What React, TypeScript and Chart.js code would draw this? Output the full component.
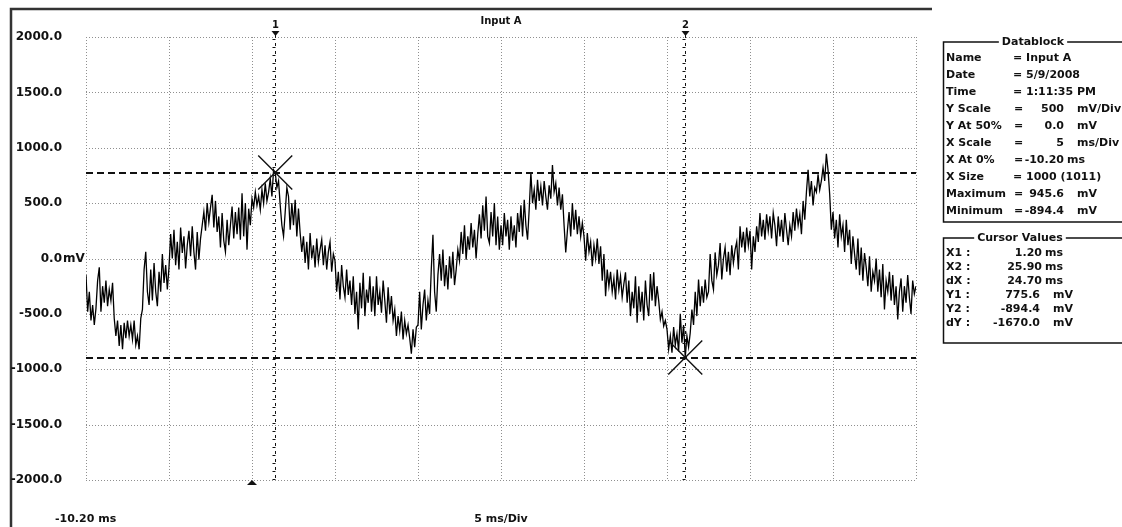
import React, { useEffect, useRef } from 'react';
import { Chart, registerables } from 'chart.js';

Chart.register(...registerables);

// ---- data ----
const X_START_MS = -10.2;
const X_STEP_MS = 0.1;
const X_MIN_MS = -10.2;
const X_MAX_MS = 39.8;
const Y_MIN_MV = -2000;
const Y_MAX_MV = 2000;

// one row per 5 ms division, sampled every 0.1 ms
const VOLTAGE_MV = [
  -150, -480, -300, -560, -420, -600, -450, -200, -80, -480, -250, -400, -200, -430, -280, -380, -220, -540, -700, -560, -790, -600, -820, -580, -720, -560, -700, -600, -730, -560, -780, -700, -820, -540, -460, -100, 60, -300, -420, -100, -380, -40, -300, -430, -120, -300, 40, -220, -60, -280,
  -80, 220, 0, 260, -60, 150, -100, 280, 50, 200, -90, 120, 250, 20, 290, 60, -100, 240, -10, 180, 300, 420, 250, 500, 330, 460, 575, 280, 520, 240, 380, 100, 410, 160, 60, 350, 120, 300, 470, 180, 420, 220, 460, 170, 590, 200, 500, 80, 450, 300,
  540, 460, 600, 480, 560, 440, 620, 500, 680, 520, 600, 720, 560, 800, 775.6, 640, 700, 480, 300, 200, 420, 640, 560, 260, 500, 300, 530, 200, 450, 230, 60, 200, -40, 150, -100, 230, 0, 120, -80, 180, -30, 80, 170, -60, 120, -100, 60, 150, -120, 40,
  -20, -300, -120, -370, -60, -250, -350, -100, -330, -200, -420, -160, -500, -300, -640, -220, -450, -130, -520, -280, -400, -160, -480, -250, -520, -160, -420, -300, -490, -200, -380, -580, -260, -500, -340, -560, -460, -700, -520, -650, -480, -730, -560, -680, -600, -720, -860, -640, -800, -620,
  -600, -300, -640, -420, -280, -560, -380, -500, -100, 215, -300, -480, -150, 40, -200, 80, -250, -60, -280, 20, -180, 60, -240, -100, 80, -20, 240, 40, 300, -10, 200, 80, 320, 100, 260, 0, 220, 400, 180, 480, 250, 560, 200, 140, 420, 200, 500, 120, 380, 80,
  300, 120, 410, 200, 350, 80, 380, 160, 300, 100, 410, 240, 480, 200, 530, 300, 170, 450, 775, 500, 620, 440, 710, 520, 650, 480, 700, 560, 440, 660, 540, 845, 600, 680, 480, 640, 440, 580, 300, 55, 250, 420, 200, 500, 260, 440, 220, 380, 200, 320,
  200, -20, 230, 60, 150, -70, 120, 0, 180, -50, 110, -200, 40, -340, -100, -250, -120, -300, -180, -370, -100, -280, -160, -350, -230, -125, -400, -200, -520, -300, -450, -160, -580, -250, -480, -300, -560, -200, -420, -520, -140, -380, -125, -430, -250, -380, -550, -480, -610, -560,
  -640, -820, -700, -850, -620, -780, -680, -840, -500, -760, -600, -894.4, -700, -800, -670, -460, -600, -300, -520, -190, -430, -250, -400, -190, -350, -300, 40, -200, -280, 55, -150, -60, 140, -190, 0, 100, -120, 60, -150, 120, -40, 80, 150, -100, 290, 100, 240, 55, 280, 120,
  250, -100, 200, 60, 290, 150, 410, 200, 350, 170, 400, 250, 380, 180, 410, 300, 110, 380, 200, 350, 150, 410, 260, 120, 300, 200, 420, 250, 450, 300, 400, 220, 520, 350, 600, 800, 560, 700, 480, 640, 600, 760, 620, 700, 820, 700, 945.6, 800, 580, 260,
  420, 180, 350, 100, 400, 200, 300, 60, 350, 120, 260, -50, 200, 40, -100, 180, -150, 100, -200, 50, -80, -250, 20, -300, -120, -200, 0, -300, -100, -350, -50, -460, -200, -300, -120, -380, -150, -420, -250, -550, -300, -180, -480, -250, -400, -150, -350, -500, -200, -320,
  -250,
];

const X_GRID_MS = [-10.2, -5.2, -0.2, 4.8, 9.8, 14.8, 19.8, 24.8, 29.8, 34.8, 39.8];
const Y_TICKS_MV = [2000, 1500, 1000, 500, 0, -500, -1000, -1500, -2000];
const Y_TICK_LABELS = ['2000.0', '1500.0', '1000.0', '500.0', '0.0', '-500.0', '-1000.0', '-1500.0', '-2000.0'];

const CURSOR_X_MS = [1.2, 25.9];
const CURSOR_Y_MV = [775.6, -894.4];
const CURSOR_NAMES = ['1', '2'];
const TRIGGER_X_MS = -0.2;

const TITLE = 'Input A';
const X_LEFT_LABEL = '-10.20 ms';
const X_SCALE_LABEL = '5 ms/Div';

const DATABLOCK_TITLE = 'Datablock';
const DATABLOCK_LABELS = ['Name', 'Date', 'Time', 'Y Scale', 'Y At 50%', 'X Scale', 'X At 0%', 'X Size', 'Maximum', 'Minimum'];
const DATABLOCK_VALUES = ['Input A', '5/9/2008', '1:11:35 PM', '500', '0.0', '5', '-10.20', '1000 (1011)', '945.6', '-894.4'];
const DATABLOCK_UNITS = ['', '', '', 'mV/Div', 'mV', 'ms/Div', 'ms', '', 'mV', 'mV'];

const CURSOR_TITLE = 'Cursor Values';
const CURSOR_LABELS = ['X1 :', 'X2 :', 'dX :', 'Y1 :', 'Y2 :', 'dY :'];
const CURSOR_VALUES = ['1.20', '25.90', '24.70', '775.6', '-894.4', '-1670.0'];
const CURSOR_UNITS = ['ms', 'ms', 'ms', 'mV', 'mV', 'mV'];

const W = 1122;
const H = 527;
const FONT = '"DejaVu Sans", "Liberation Sans", sans-serif';
const f = (size: number) => `bold ${size}px ${FONT}`;

const scopePlugin = {
  id: 'scopeDecor',
  beforeDatasetsDraw(chart: any) {
    const { ctx, chartArea: a, scales } = chart;
    const xs = scales.x;
    const ys = scales.y;
    ctx.save();
    ctx.strokeStyle = '#8f8f8f';
    ctx.lineWidth = 1;
    ctx.setLineDash([1, 2]);
    for (const v of X_GRID_MS) {
      const px = Math.round(xs.getPixelForValue(v)) + 0.5;
      ctx.beginPath();
      ctx.moveTo(px, a.top);
      ctx.lineTo(px, a.bottom);
      ctx.stroke();
    }
    for (const v of Y_TICKS_MV) {
      const py = Math.round(ys.getPixelForValue(v)) + 0.5;
      ctx.beginPath();
      ctx.moveTo(a.left, py);
      ctx.lineTo(a.right, py);
      ctx.stroke();
    }
    ctx.restore();
  },
  afterDatasetsDraw(chart: any) {
    const { ctx, chartArea: a, scales } = chart;
    const xs = scales.x;
    const ys = scales.y;
    ctx.save();
    // horizontal cursor lines
    ctx.strokeStyle = '#111';
    ctx.lineWidth = 2;
    ctx.setLineDash([7, 4]);
    for (const v of CURSOR_Y_MV) {
      const py = Math.round(ys.getPixelForValue(v));
      ctx.beginPath();
      ctx.moveTo(a.left, py);
      ctx.lineTo(a.right, py);
      ctx.stroke();
    }
    // vertical cursor lines
    ctx.setLineDash([3, 5]);
    ctx.lineWidth = 1;
    CURSOR_X_MS.forEach((v, i) => {
      const px = Math.round(xs.getPixelForValue(v)) + 0.5;
      ctx.beginPath();
      ctx.moveTo(px, a.top - 2);
      ctx.lineTo(px, a.bottom);
      ctx.stroke();
      ctx.setLineDash([]);
      for (let yy = a.top + 2; yy < a.bottom; yy += 8) {
        ctx.beginPath();
        ctx.moveTo(px - 3, yy + 0.5);
        ctx.lineTo(px, yy + 0.5);
        ctx.stroke();
      }
      ctx.setLineDash([3, 5]);
      ctx.fillStyle = '#111';
      ctx.font = f(10);
      ctx.textAlign = 'center';
      ctx.textBaseline = 'middle';
      ctx.fillText(CURSOR_NAMES[i], px, a.top - 12);
      ctx.beginPath();
      ctx.moveTo(px - 4, a.top - 6);
      ctx.lineTo(px + 4, a.top - 6);
      ctx.lineTo(px, a.top - 1);
      ctx.closePath();
      ctx.fill();
    });
    // X markers at cursor intersections
    ctx.setLineDash([]);
    ctx.lineWidth = 1.4;
    CURSOR_X_MS.forEach((v, i) => {
      const px = xs.getPixelForValue(v);
      const py = ys.getPixelForValue(CURSOR_Y_MV[i]);
      const r = 17;
      ctx.beginPath();
      ctx.moveTo(px - r, py - r);
      ctx.lineTo(px + r, py + r);
      ctx.moveTo(px - r, py + r);
      ctx.lineTo(px + r, py - r);
      ctx.stroke();
    });
    // trigger marker
    const tx = Math.round(xs.getPixelForValue(TRIGGER_X_MS));
    ctx.fillStyle = '#111';
    ctx.beginPath();
    ctx.moveTo(tx - 5, a.bottom + 5);
    ctx.lineTo(tx + 5, a.bottom + 5);
    ctx.lineTo(tx, a.bottom);
    ctx.closePath();
    ctx.fill();
    ctx.restore();
  },
  afterDraw(chart: any) {
    const { ctx, chartArea: a, scales } = chart;
    const ys = scales.y;
    ctx.save();
    // frame
    ctx.strokeStyle = '#333';
    ctx.lineWidth = 2.5;
    ctx.beginPath();
    ctx.moveTo(11, H);
    ctx.lineTo(11, 9);
    ctx.lineTo(932, 9);
    ctx.stroke();

    ctx.fillStyle = '#111';
    ctx.textBaseline = 'middle';
    // y labels
    ctx.font = f(12);
    Y_TICKS_MV.forEach((v, i) => {
      const py = ys.getPixelForValue(v);
      ctx.textAlign = 'right';
      ctx.fillText(Y_TICK_LABELS[i], 62, py);
      if (v === 0) {
        ctx.textAlign = 'left';
        ctx.fillText('mV', 63, py);
      }
    });
    // title
    ctx.font = f(10);
    ctx.textAlign = 'center';
    ctx.fillText(TITLE, (a.left + a.right) / 2, 21);
    // bottom labels
    ctx.font = f(11);
    ctx.textAlign = 'left';
    ctx.fillText(X_LEFT_LABEL, 55, 519);
    ctx.textAlign = 'center';
    ctx.fillText(X_SCALE_LABEL, (a.left + a.right) / 2, 519);

    // info boxes
    const bx = 943.5;
    ctx.strokeStyle = '#111';
    ctx.lineWidth = 1.5;
    const drawBox = (top: number, bottom: number, title: string, cx: number) => {
      ctx.font = f(11);
      const tw = ctx.measureText(title).width;
      ctx.beginPath();
      ctx.moveTo(cx - tw / 2 - 3, top);
      ctx.lineTo(bx, top);
      ctx.lineTo(bx, bottom);
      ctx.lineTo(W, bottom);
      ctx.moveTo(cx + tw / 2 + 3, top);
      ctx.lineTo(W, top);
      ctx.stroke();
      ctx.textAlign = 'center';
      ctx.fillText(title, cx, top);
    };
    drawBox(42, 222, DATABLOCK_TITLE, 1033);
    ctx.font = f(11);
    DATABLOCK_LABELS.forEach((lab, i) => {
      const y = 58 + i * 17;
      ctx.textAlign = 'left';
      ctx.fillText(lab, 946, y);
      const unit = DATABLOCK_UNITS[i];
      if (unit === '') {
        ctx.fillText('= ' + DATABLOCK_VALUES[i], 1013, y);
      } else {
        ctx.fillText('=', 1014, y);
        ctx.textAlign = 'right';
        ctx.fillText(DATABLOCK_VALUES[i], 1064, y);
        ctx.textAlign = 'left';
        ctx.fillText(unit, unit === 'ms' ? 1067 : 1077, y);
      }
    });

    drawBox(238, 343, CURSOR_TITLE, 1020);
    ctx.font = f(11);
    CURSOR_LABELS.forEach((lab, i) => {
      const y = 253 + i * 14;
      ctx.textAlign = 'left';
      ctx.fillText(lab, 946, y);
      const isMs = CURSOR_UNITS[i] === 'ms';
      ctx.textAlign = 'right';
      ctx.fillText(CURSOR_VALUES[i], isMs ? 1042 : 1040, y);
      ctx.textAlign = 'left';
      ctx.fillText(CURSOR_UNITS[i], isMs ? 1045 : 1053, y);
    });
    ctx.restore();
  },
};

export default function App() {
  const ref = useRef<HTMLCanvasElement | null>(null);
  useEffect(() => {
    if (!ref.current) return;
    const points = VOLTAGE_MV.map((v, i) => ({ x: X_START_MS + i * X_STEP_MS, y: v }));
    const chart = new Chart(ref.current, {
      type: 'line',
      data: {
        datasets: [
          {
            label: TITLE,
            data: points,
            borderColor: '#000',
            borderWidth: 1.3,
            pointRadius: 0,
            tension: 0,
          },
        ],
      },
      options: {
        animation: false,
        responsive: false,
        devicePixelRatio: 1,
        layout: { padding: { left: 86, right: W - 916, top: 37, bottom: H - 480 } },
        plugins: { legend: { display: false }, tooltip: { enabled: false }, title: { display: false } },
        scales: {
          x: { type: 'linear', min: X_MIN_MS, max: X_MAX_MS, display: false },
          y: { type: 'linear', min: Y_MIN_MV, max: Y_MAX_MV, display: false },
        },
      },
      plugins: [scopePlugin],
    });
    return () => chart.destroy();
  }, []);
  return (
    <div style={{ position: 'fixed', left: 0, top: 0, width: W, height: H, background: '#fff' }}>
      <canvas ref={ref} width={W} height={H} style={{ display: 'block' }} />
    </div>
  );
}
